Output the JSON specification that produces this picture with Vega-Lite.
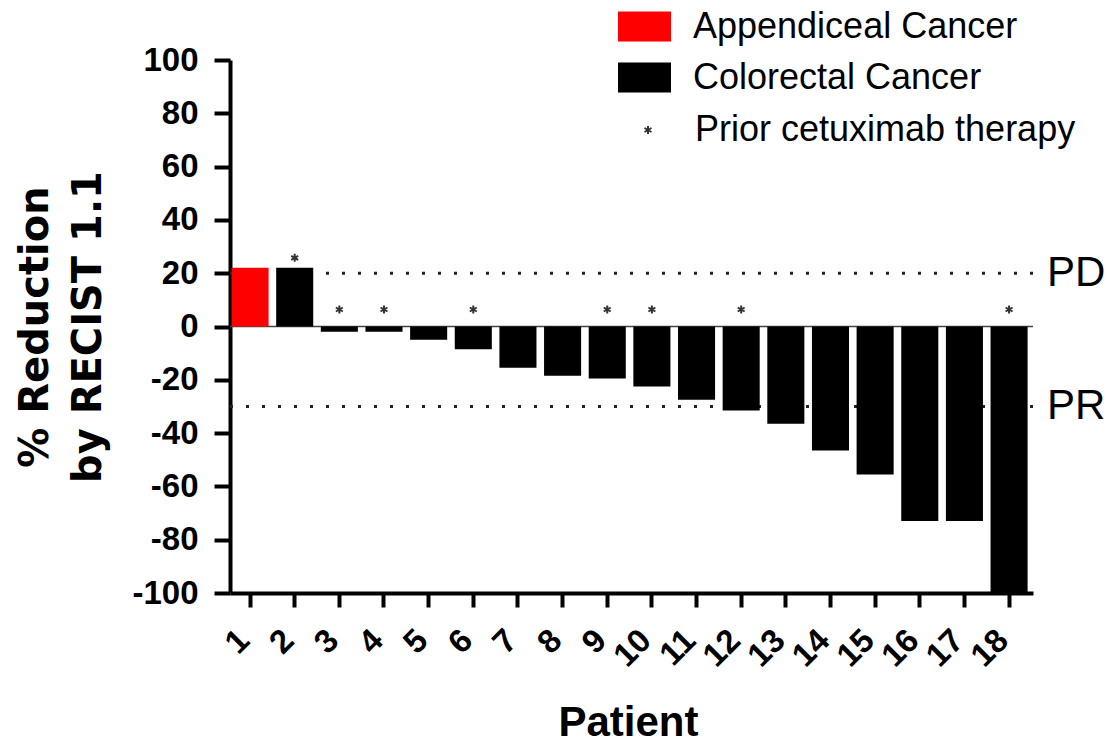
{
  "$schema": "https://vega.github.io/schema/vega-lite/v6.json",
  "width": 803,
  "height": 533,
  "autosize": {"type": "none"},
  "padding": {"left": 230, "top": 60, "right": 76, "bottom": 150},
  "background": "white",
  "config": {
    "view": {"stroke": null},
    "font": "Liberation Sans",
    "axis": {"grid": false, "labelFont": "Liberation Sans", "titleFont": "Liberation Sans", "labelColor": "black", "titleColor": "black"},
    "legend": {"labelFont": "Liberation Sans", "labelColor": "black", "labelLimit": 0}
  },
  "datasets": {
    "patients": [
      {"patient": "1", "value": 22, "type": "Appendiceal Cancer", "therapy": "none"},
      {"patient": "2", "value": 22, "type": "Colorectal Cancer", "therapy": "Prior cetuximab therapy"},
      {"patient": "3", "value": -2, "type": "Colorectal Cancer", "therapy": "Prior cetuximab therapy"},
      {"patient": "4", "value": -2, "type": "Colorectal Cancer", "therapy": "Prior cetuximab therapy"},
      {"patient": "5", "value": -5, "type": "Colorectal Cancer", "therapy": "none"},
      {"patient": "6", "value": -8.5, "type": "Colorectal Cancer", "therapy": "Prior cetuximab therapy"},
      {"patient": "7", "value": -15.5, "type": "Colorectal Cancer", "therapy": "none"},
      {"patient": "8", "value": -18.5, "type": "Colorectal Cancer", "therapy": "none"},
      {"patient": "9", "value": -19.5, "type": "Colorectal Cancer", "therapy": "Prior cetuximab therapy"},
      {"patient": "10", "value": -22.5, "type": "Colorectal Cancer", "therapy": "Prior cetuximab therapy"},
      {"patient": "11", "value": -27.5, "type": "Colorectal Cancer", "therapy": "none"},
      {"patient": "12", "value": -31.5, "type": "Colorectal Cancer", "therapy": "Prior cetuximab therapy"},
      {"patient": "13", "value": -36.5, "type": "Colorectal Cancer", "therapy": "none"},
      {"patient": "14", "value": -46.5, "type": "Colorectal Cancer", "therapy": "none"},
      {"patient": "15", "value": -55.5, "type": "Colorectal Cancer", "therapy": "none"},
      {"patient": "16", "value": -73, "type": "Colorectal Cancer", "therapy": "none"},
      {"patient": "17", "value": -73, "type": "Colorectal Cancer", "therapy": "none"},
      {"patient": "18", "value": -100, "type": "Colorectal Cancer", "therapy": "Prior cetuximab therapy"}
    ],
    "refs": [
      {"ref": "PD", "v": 20},
      {"ref": "PR", "v": -30}
    ],
    "zero": [{"v": 0}]
  },
  "layer": [
    {
      "data": {"name": "refs"},
      "mark": {"type": "rule", "strokeDash": [3, 13], "strokeWidth": 3, "color": "#222", "strokeCap": "butt"},
      "encoding": {"y": {"field": "v", "type": "quantitative"}}
    },
    {
      "data": {"name": "zero"},
      "mark": {"type": "rule", "strokeWidth": 1.5, "color": "#444"},
      "encoding": {"y": {"field": "v", "type": "quantitative"}}
    },
    {
      "data": {"name": "patients"},
      "mark": {"type": "bar"},
      "encoding": {
        "x": {
          "field": "patient", "type": "ordinal", "sort": null,
          "scale": {"paddingInner": 0.17, "paddingOuter": 0.0775, "align": 0.22},
          "axis": {
            "title": "Patient", "titleFontSize": 42, "titleFontWeight": "bold",
            "titleX": 398, "titleY": 142, "titleAlign": "center", "titleBaseline": "alphabetic",
            "labelAngle": -45, "labelAlign": "right", "labelBaseline": "middle", "labelFontSize": 33, "labelFontWeight": "bold", "labelPadding": 28, "labelOffset": -6,
            "domainColor": "black", "domainWidth": 4, "tickColor": "black", "tickWidth": 4, "tickSize": 14
          }
        },
        "y": {
          "field": "value", "type": "quantitative",
          "scale": {"domain": [-100, 100], "nice": false},
          "axis": {
            "values": [-100, -80, -60, -40, -20, 0, 20, 40, 60, 80, 100],
            "labelExpr": "replace(datum.label, '\u2212', '-')",
            "title": ["% Reduction", "by RECIST 1.1"], "titleFont": "DejaVu Sans", "titleFontSize": 40, "titleFontWeight": "bold",
            "titleX": -183, "titleY": 266.5, "titleAngle": -90, "titleAlign": "center", "titleBaseline": "alphabetic", "titleLineHeight": 53,
            "labelFontSize": 33, "labelFontWeight": "bold", "labelPadding": 16,
            "domainColor": "black", "domainWidth": 4, "tickColor": "black", "tickWidth": 4, "tickSize": 16
          }
        },
        "color": {
          "field": "type", "type": "nominal",
          "scale": {"domain": ["Appendiceal Cancer", "Colorectal Cancer"], "range": ["#ff0000", "#000000"]},
          "legend": {
            "title": null, "orient": "none", "legendX": 388, "legendY": -60,
            "symbolType": "M-1,-0.566H1V0.566H-1Z", "symbolSize": 2809, "symbolStrokeWidth": 0,
            "labelFontSize": 36, "labelOffset": 22, "rowPadding": 6, "padding": 0
          }
        }
      }
    },
    {
      "data": {"name": "patients"},
      "transform": [{"filter": "datum.therapy == 'Prior cetuximab therapy' && datum.value > 0"}],
      "mark": {"type": "point", "filled": false, "strokeWidth": 2, "color": "#333", "size": 64, "yOffset": -10, "opacity": 1},
      "encoding": {
        "x": {"field": "patient", "type": "ordinal", "sort": null},
        "y": {"field": "value", "type": "quantitative"},
        "shape": {
          "field": "therapy", "type": "nominal",
          "scale": {"domain": ["Prior cetuximab therapy"], "range": ["M0,-1L0,1M-0.87,-0.5L0.87,0.5M-0.87,0.5L0.87,-0.5"]},
          "legend": {
            "title": null, "orient": "none", "legendX": 400, "legendY": 52,
            "symbolSize": 64, "symbolStrokeColor": "#333", "symbolStrokeWidth": 2, "symbolFillColor": "transparent",
            "labelFontSize": 36, "labelOffset": 29, "padding": 0
          }
        }
      }
    },
    {
      "data": {"name": "patients"},
      "transform": [{"filter": "datum.therapy == 'Prior cetuximab therapy' && datum.value <= 0"}],
      "mark": {"type": "point", "filled": false, "strokeWidth": 2, "color": "#333", "size": 64, "yOffset": -17, "opacity": 1},
      "encoding": {
        "x": {"field": "patient", "type": "ordinal", "sort": null},
        "y": {"datum": 0, "type": "quantitative"},
        "shape": {"field": "therapy", "type": "nominal"}
      }
    },
    {
      "data": {"name": "refs"},
      "mark": {"type": "text", "align": "left", "baseline": "middle", "fontSize": 42, "dx": 38, "color": "black", "font": "Liberation Sans"},
      "encoding": {
        "x": {"datum": "18", "type": "ordinal"},
        "y": {"field": "v", "type": "quantitative"},
        "text": {"field": "ref"}
      }
    }
  ]
}
